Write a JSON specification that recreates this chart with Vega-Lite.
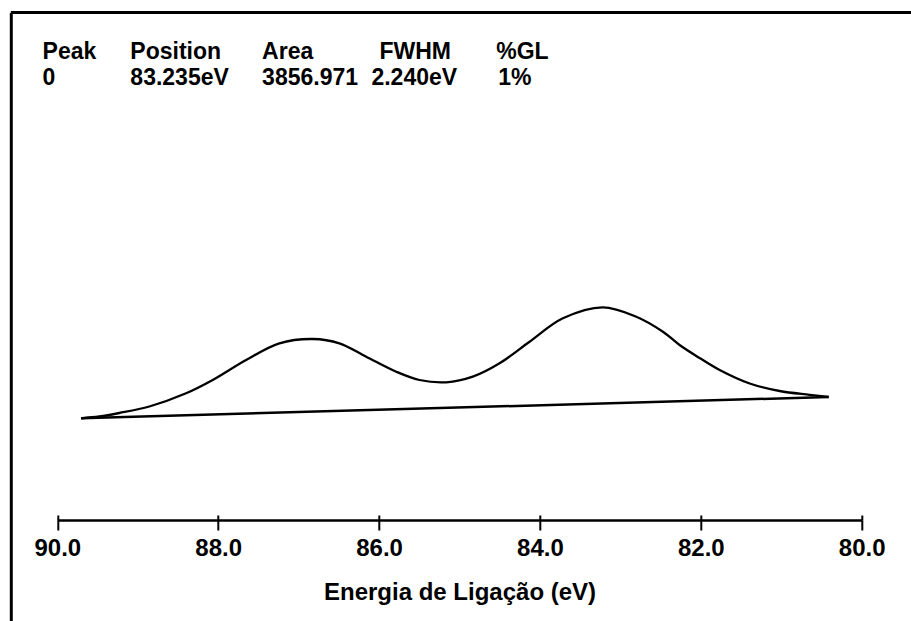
{
  "$schema": "https://vega.github.io/schema/vega-lite/v6.json",
  "autosize": "none",
  "width": 900.2,
  "height": 608.5,
  "padding": {"left": 10.8, "top": 12.5, "right": 0, "bottom": 0},
  "background": "white",
  "config": {
    "view": {"stroke": null},
    "text": {"font": "Liberation Sans", "fontWeight": "bold", "fontSize": 23, "color": "black", "align": "left", "baseline": "alphabetic"}
  },
  "datasets": {
    "curva": [
      {"energia": 89.705, "intensidade": 1027},
      {"energia": 89.478, "intensidade": 1045},
      {"energia": 89.229, "intensidade": 1080},
      {"energia": 88.856, "intensidade": 1145},
      {"energia": 88.399, "intensidade": 1277},
      {"energia": 88.068, "intensidade": 1410},
      {"energia": 87.653, "intensidade": 1610},
      {"energia": 87.239, "intensidade": 1777},
      {"energia": 86.825, "intensidade": 1820},
      {"energia": 86.493, "intensidade": 1777},
      {"energia": 86.160, "intensidade": 1643},
      {"energia": 85.787, "intensidade": 1493},
      {"energia": 85.498, "intensidade": 1410},
      {"energia": 85.165, "intensidade": 1387},
      {"energia": 84.835, "intensidade": 1443},
      {"energia": 84.502, "intensidade": 1577},
      {"energia": 84.129, "intensidade": 1793},
      {"energia": 83.715, "intensidade": 2027},
      {"energia": 83.218, "intensidade": 2137},
      {"energia": 82.802, "intensidade": 2043},
      {"energia": 82.471, "intensidade": 1893},
      {"energia": 82.264, "intensidade": 1760},
      {"energia": 82.015, "intensidade": 1630},
      {"energia": 81.766, "intensidade": 1510},
      {"energia": 81.393, "intensidade": 1375},
      {"energia": 81.020, "intensidade": 1300},
      {"energia": 80.647, "intensidade": 1262},
      {"energia": 80.410, "intensidade": 1240}
    ],
    "linhaBase": [
      {"energia": 89.705, "intensidade": 1027},
      {"energia": 80.410, "intensidade": 1240}
    ],
    "picos": [
      {"Peak": "0", "Position": "83.235eV", "Area": "3856.971", "FWHM": "2.240eV", "%GL": "1%"}
    ]
  },
  "layer": [
    {
      "data": {"name": "curva"},
      "mark": {"type": "line", "color": "black", "strokeWidth": 2.3, "interpolate": "catmull-rom"},
      "encoding": {
        "x": {
          "field": "energia", "type": "quantitative",
          "scale": {"domain": [80, 90], "range": [850.9, 46.5], "nice": false, "zero": false},
          "axis": {
            "orient": "bottom", "offset": -101,
            "values": [90, 88, 86, 84, 82, 80], "format": ".1f",
            "title": "Energia de Ligação (eV)",
            "grid": false,
            "domainColor": "black", "domainWidth": 2.5,
            "tickColor": "black", "tickWidth": 2, "tickSize": 10,
            "labelFont": "Liberation Sans", "labelFontWeight": "bold", "labelFontSize": 24, "labelColor": "black",
            "labelPadding": 6, "labelFlush": false, "labelOverlap": false,
            "titleFont": "Liberation Sans", "titleFontWeight": "bold", "titleFontSize": 24, "titleColor": "black",
            "titlePadding": 20
          }
        },
        "y": {
          "field": "intensidade", "type": "quantitative",
          "scale": {"domain": [-1000, 5085], "nice": false, "zero": false},
          "axis": {"orient": "left", "domain": true, "domainColor": "black", "domainWidth": 3, "ticks": false, "labels": false, "title": null, "grid": false}
        }
      }
    },
    {
      "data": {"name": "linhaBase"},
      "mark": {"type": "line", "color": "black", "strokeWidth": 2.5},
      "encoding": {
        "x": {
          "field": "energia", "type": "quantitative",
          "axis": {
            "orient": "bottom", "offset": -101,
            "values": [90, 88, 86, 84, 82, 80],
            "domain": false, "labels": false, "title": null, "grid": false,
            "tickColor": "black", "tickWidth": 2, "tickSize": -5
          }
        },
        "y": {"field": "intensidade", "type": "quantitative"}
      }
    },
    {
      "data": {"name": "picos"},
      "mark": {"type": "rule", "color": "black", "strokeWidth": 3},
      "encoding": {"y": {"datum": 5085, "type": "quantitative"}}
    },
    {
      "data": {"name": "picos"},
      "mark": {"type": "text"},
      "encoding": {"x": {"datum": 90.183, "type": "quantitative", "axis": null}, "y": {"datum": 4625, "type": "quantitative"}, "text": {"value": "Peak"}}
    },
    {
      "data": {"name": "picos"},
      "mark": {"type": "text"},
      "encoding": {"x": {"datum": 89.092, "type": "quantitative", "axis": null}, "y": {"datum": 4625, "type": "quantitative"}, "text": {"value": "Position"}}
    },
    {
      "data": {"name": "picos"},
      "mark": {"type": "text"},
      "encoding": {"x": {"datum": 87.454, "type": "quantitative", "axis": null}, "y": {"datum": 4625, "type": "quantitative"}, "text": {"value": "Area"}}
    },
    {
      "data": {"name": "picos"},
      "mark": {"type": "text"},
      "encoding": {"x": {"datum": 85.995, "type": "quantitative", "axis": null}, "y": {"datum": 4625, "type": "quantitative"}, "text": {"value": "FWHM"}}
    },
    {
      "data": {"name": "picos"},
      "mark": {"type": "text"},
      "encoding": {"x": {"datum": 84.544, "type": "quantitative", "axis": null}, "y": {"datum": 4625, "type": "quantitative"}, "text": {"value": "%GL"}}
    },
    {
      "data": {"name": "picos"},
      "mark": {"type": "text"},
      "encoding": {"x": {"datum": 90.183, "type": "quantitative", "axis": null}, "y": {"datum": 4360, "type": "quantitative"}, "text": {"field": "Peak"}}
    },
    {
      "data": {"name": "picos"},
      "mark": {"type": "text"},
      "encoding": {"x": {"datum": 89.092, "type": "quantitative", "axis": null}, "y": {"datum": 4360, "type": "quantitative"}, "text": {"field": "Position"}}
    },
    {
      "data": {"name": "picos"},
      "mark": {"type": "text"},
      "encoding": {"x": {"datum": 87.454, "type": "quantitative", "axis": null}, "y": {"datum": 4360, "type": "quantitative"}, "text": {"field": "Area"}}
    },
    {
      "data": {"name": "picos"},
      "mark": {"type": "text"},
      "encoding": {"x": {"datum": 86.095, "type": "quantitative", "axis": null}, "y": {"datum": 4360, "type": "quantitative"}, "text": {"field": "FWHM"}}
    },
    {
      "data": {"name": "picos"},
      "mark": {"type": "text"},
      "encoding": {"x": {"datum": 84.519, "type": "quantitative", "axis": null}, "y": {"datum": 4360, "type": "quantitative"}, "text": {"field": "%GL"}}
    }
  ],
  "resolve": {"axis": {"x": "independent"}}
}
